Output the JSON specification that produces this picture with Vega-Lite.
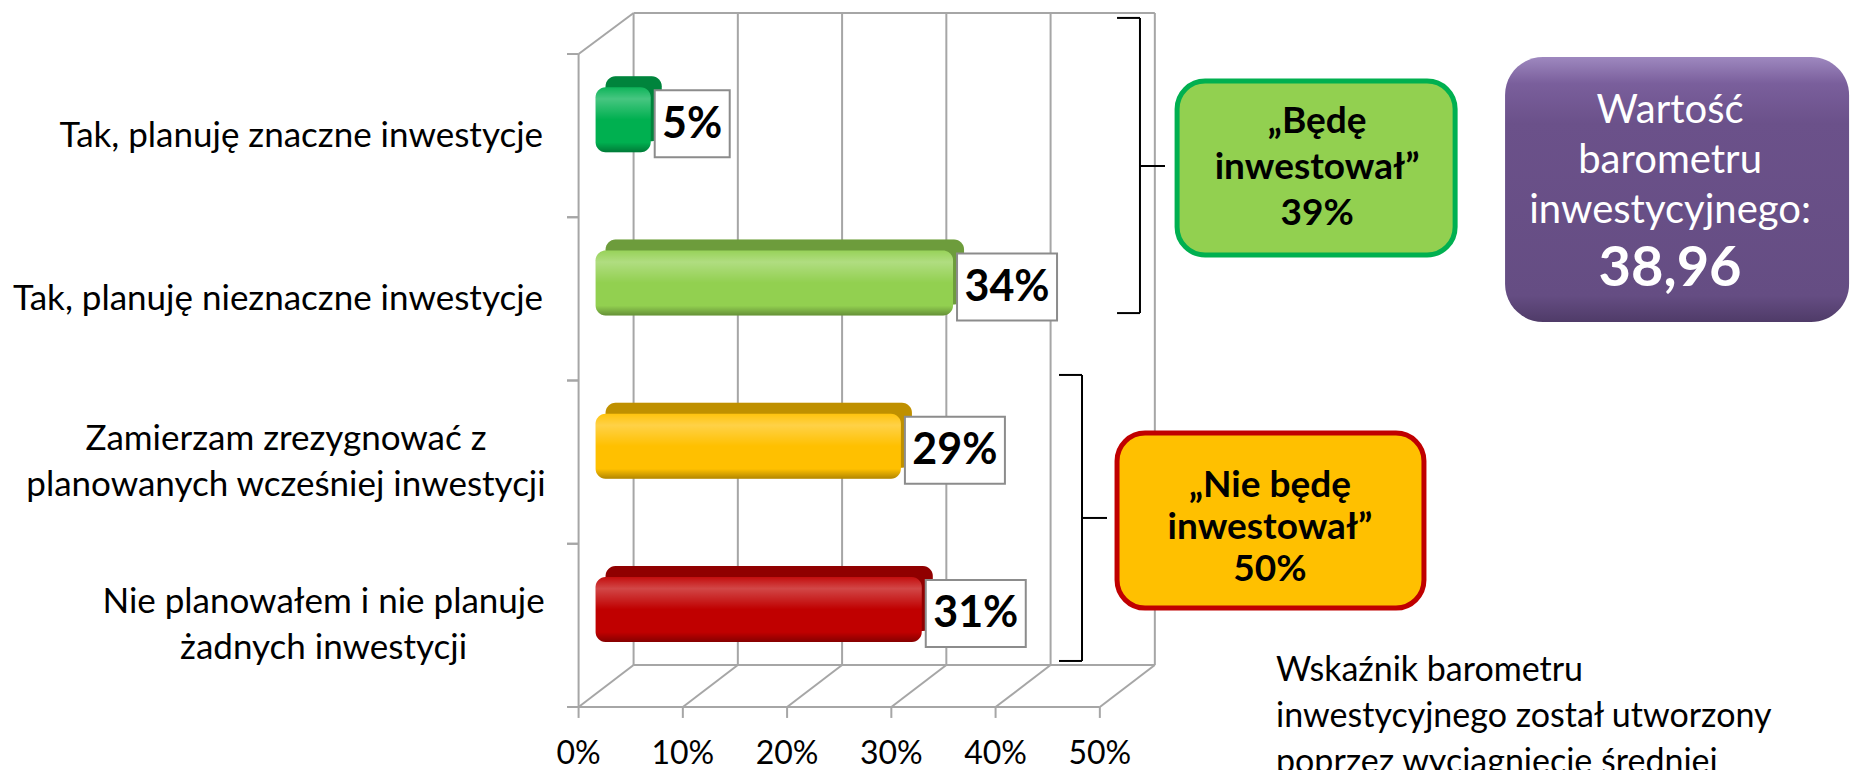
{
  "$schema": "https://vega.github.io/schema/vega-lite/v6.json",
  "width": 1852,
  "height": 770,
  "padding": 0,
  "autosize": {"type": "none"},
  "background": "white",
  "config": {"view": {"stroke": null}, "font": "Lato"},
  "datasets": {
    "cats": [
      {"category": "Tak, planuję znaczne inwestycje", "idx": 4, "value": 5, "pct": "5%"},
      {"category": "Tak, planuję nieznaczne inwestycje", "idx": 3, "value": 34, "pct": "34%"},
      {"category": "Zamierzam zrezygnować z\nplanowanych wcześniej inwestycji", "idx": 2, "value": 29, "pct": "29%"},
      {"category": "Nie planowałem i nie planuje\nżadnych inwestycji", "idx": 1, "value": 31, "pct": "31%"}
    ],
    "ticks": [
      {"v": 0, "label": "0%"},
      {"v": 10, "label": "10%"},
      {"v": 20, "label": "20%"},
      {"v": 30, "label": "30%"},
      {"v": 40, "label": "40%"},
      {"v": 50, "label": "50%"}
    ]
  },
  "layer": [
    {
      "data": {"name": "ticks"},
      "mark": {"type": "rule", "color": "#A6A6A6", "strokeWidth": 2, "xOffset": 55},
      "encoding": {
        "x": {"field": "v", "type": "quantitative", "scale": {"domain": [-55.5, 122.15], "nice": false, "zero": false}, "axis": null},
        "y": {"datum": 0.757, "type": "quantitative", "axis": null},
        "y2": {"datum": 4.751}
      }
    },
    {
      "data": {"values": [{"edge": "back top"}]},
      "mark": {"type": "rule", "color": "#A6A6A6", "strokeWidth": 2, "xOffset": 55, "x2Offset": 55},
      "encoding": {
        "x": {"datum": 0, "type": "quantitative", "axis": null},
        "x2": {"datum": 50},
        "y": {"datum": 4.751, "type": "quantitative", "axis": null}
      }
    },
    {
      "data": {"values": [{"edge": "back floor"}]},
      "mark": {"type": "rule", "color": "#A6A6A6", "strokeWidth": 2, "xOffset": 55, "x2Offset": 55},
      "encoding": {
        "x": {"datum": 0, "type": "quantitative", "axis": null},
        "x2": {"datum": 50},
        "y": {"datum": 0.757, "type": "quantitative", "axis": null}
      }
    },
    {
      "data": {"name": "ticks"},
      "mark": {"type": "rule", "color": "#A6A6A6", "strokeWidth": 2, "x2Offset": 55},
      "encoding": {
        "x": {"field": "v", "type": "quantitative", "scale": {"domain": [-55.5, 122.15], "nice": false, "zero": false}, "axis": null},
        "x2": {"field": "v"},
        "y": {"datum": 0.5, "type": "quantitative", "axis": null},
        "y2": {"datum": 0.757}
      }
    },
    {
      "data": {"values": [{"edge": "front floor"}]},
      "mark": {"type": "rule", "color": "#A6A6A6", "strokeWidth": 2},
      "encoding": {
        "x": {"datum": 0, "type": "quantitative", "axis": null},
        "x2": {"datum": 50},
        "y": {"datum": 0.5, "type": "quantitative", "axis": null}
      }
    },
    {
      "data": {"values": [{"edge": "front axis"}]},
      "mark": {"type": "rule", "color": "#A6A6A6", "strokeWidth": 2},
      "encoding": {
        "x": {"datum": 0, "type": "quantitative", "axis": null},
        "y": {"datum": 0.5, "type": "quantitative", "axis": null},
        "y2": {"datum": 4.5}
      }
    },
    {
      "data": {"values": [{"edge": "side top"}]},
      "mark": {"type": "rule", "color": "#A6A6A6", "strokeWidth": 2, "x2Offset": 55},
      "encoding": {
        "x": {"datum": 0, "type": "quantitative", "axis": null},
        "x2": {"datum": 0},
        "y": {"datum": 4.5, "type": "quantitative", "axis": null},
        "y2": {"datum": 4.751}
      }
    },
    {
      "data": {"name": "ticks"},
      "mark": {"type": "rule", "color": "#A6A6A6", "strokeWidth": 2},
      "encoding": {
        "x": {"field": "v", "type": "quantitative", "scale": {"domain": [-55.5, 122.15], "nice": false, "zero": false}, "axis": null},
        "y": {"datum": 0.5, "type": "quantitative", "axis": null},
        "y2": {"datum": 0.433}
      }
    },
    {
      "data": {"name": "cats"},
      "mark": {"type": "rule", "color": "#A6A6A6", "strokeWidth": 2, "yOffset": -81.6},
      "encoding": {
        "x": {"datum": -1.11, "type": "quantitative", "axis": null},
        "x2": {"datum": 0},
        "y": {"field": "idx", "type": "quantitative", "scale": {"domain": [0.1141, 4.8308], "nice": false, "zero": false}, "axis": null}
      }
    },
    {
      "data": {"name": "cats"},
      "mark": {"type": "rule", "color": "#A6A6A6", "strokeWidth": 2, "yOffset": 81.6},
      "encoding": {
        "x": {"datum": -1.11, "type": "quantitative", "axis": null},
        "x2": {"datum": 0},
        "y": {"field": "idx", "type": "quantitative", "scale": {"domain": [0.1141, 4.8308], "nice": false, "zero": false}, "axis": null}
      }
    },
    {
      "data": {"name": "ticks"},
      "mark": {"type": "text", "fontSize": 32, "align": "center", "baseline": "middle", "color": "#000000"},
      "encoding": {
        "x": {"field": "v", "type": "quantitative", "scale": {"domain": [-55.5, 122.15], "nice": false, "zero": false}, "axis": null},
        "y": {"datum": 0.215, "type": "quantitative", "axis": null},
        "text": {"field": "label"}
      }
    },
    {
      "data": {"name": "cats"},
      "transform": [{"filter": "indexof(datum.category, '\\n') < 0"}],
      "mark": {"type": "text", "fontSize": 35, "align": "right", "baseline": "middle", "color": "#000000"},
      "encoding": {
        "x": {"datum": -3.41, "type": "quantitative", "axis": null},
        "y": {"field": "idx", "type": "quantitative", "scale": {"domain": [0.1141, 4.8308], "nice": false, "zero": false}, "axis": null},
        "text": {"field": "category"}
      }
    },
    {
      "data": {"name": "cats"},
      "transform": [{"filter": "datum.idx == 2"}],
      "mark": {"type": "text", "fontSize": 35, "align": "center", "baseline": "middle", "color": "#000000", "lineBreak": "\n", "lineHeight": 46, "yOffset": -23},
      "encoding": {
        "x": {"datum": -28.07, "type": "quantitative", "axis": null},
        "y": {"field": "idx", "type": "quantitative", "scale": {"domain": [0.1141, 4.8308], "nice": false, "zero": false}, "axis": null},
        "text": {"field": "category"}
      }
    },
    {
      "data": {"name": "cats"},
      "transform": [{"filter": "datum.idx == 1"}],
      "mark": {"type": "text", "fontSize": 35, "align": "center", "baseline": "middle", "color": "#000000", "lineBreak": "\n", "lineHeight": 46, "yOffset": -23},
      "encoding": {
        "x": {"datum": -24.46, "type": "quantitative", "axis": null},
        "y": {"field": "idx", "type": "quantitative", "scale": {"domain": [0.1141, 4.8308], "nice": false, "zero": false}, "axis": null},
        "text": {"field": "category"}
      }
    },
    {
      "data": {"name": "cats"},
      "mark": {"type": "rect", "cornerRadius": 10, "xOffset": 31, "x2Offset": 27, "yOffset": -59.5, "y2Offset": 5.5},
      "encoding": {
        "x": {"field": "value", "type": "quantitative", "scale": {"domain": [-55.5, 122.15], "nice": false, "zero": false}, "axis": null},
        "x2": {"datum": 0},
        "y": {"field": "idx", "type": "quantitative", "scale": {"domain": [0.1141, 4.8308], "nice": false, "zero": false}, "axis": null},
        "y2": {"field": "idx"},
        "color": {"field": "category", "type": "nominal", "legend": null, "scale": {"domain": ["Tak, planuję znaczne inwestycje", "Tak, planuję nieznaczne inwestycje", "Zamierzam zrezygnować z\nplanowanych wcześniej inwestycji", "Nie planowałem i nie planuje\nżadnych inwestycji"], "range": ["#00B050", "#92D050", "#FFC000", "#C00000"]}}
      }
    },
    {
      "data": {"name": "cats"},
      "mark": {"type": "rect", "cornerRadius": 10, "xOffset": 31, "x2Offset": 27, "yOffset": -59.5, "y2Offset": 5.5, "fill": "#000000", "fillOpacity": 0.25},
      "encoding": {
        "x": {"field": "value", "type": "quantitative", "scale": {"domain": [-55.5, 122.15], "nice": false, "zero": false}, "axis": null},
        "x2": {"datum": 0},
        "y": {"field": "idx", "type": "quantitative", "scale": {"domain": [0.1141, 4.8308], "nice": false, "zero": false}, "axis": null},
        "y2": {"field": "idx"}
      }
    },
    {
      "data": {"name": "cats"},
      "mark": {"type": "rect", "cornerRadius": 10, "xOffset": 20, "x2Offset": 17, "yOffset": -48.5, "y2Offset": 16.5},
      "encoding": {
        "x": {"field": "value", "type": "quantitative", "scale": {"domain": [-55.5, 122.15], "nice": false, "zero": false}, "axis": null},
        "x2": {"datum": 0},
        "y": {"field": "idx", "type": "quantitative", "scale": {"domain": [0.1141, 4.8308], "nice": false, "zero": false}, "axis": null},
        "y2": {"field": "idx"},
        "color": {"field": "category", "type": "nominal", "legend": null}
      }
    },
    {
      "data": {"name": "cats"},
      "mark": {"type": "rect", "cornerRadius": 10, "xOffset": 20, "x2Offset": 17, "yOffset": -48.5, "y2Offset": 16.5,
        "fill": {"gradient": "linear", "x1": 0, "y1": 0, "x2": 0, "y2": 1, "stops": [
          {"offset": 0, "color": "rgba(255,255,255,0.05)"},
          {"offset": 0.18, "color": "rgba(255,255,255,0.28)"},
          {"offset": 0.5, "color": "rgba(255,255,255,0)"},
          {"offset": 0.85, "color": "rgba(0,0,0,0)"},
          {"offset": 1, "color": "rgba(0,0,0,0.3)"}
        ]}},
      "encoding": {
        "x": {"field": "value", "type": "quantitative", "scale": {"domain": [-55.5, 122.15], "nice": false, "zero": false}, "axis": null},
        "x2": {"datum": 0},
        "y": {"field": "idx", "type": "quantitative", "scale": {"domain": [0.1141, 4.8308], "nice": false, "zero": false}, "axis": null},
        "y2": {"field": "idx"}
      }
    },
    {
      "data": {"name": "cats"},
      "transform": [{"filter": "datum.value >= 10"}],
      "mark": {"type": "rect", "fill": "#FFFFFF", "stroke": "#8C8C8C", "strokeWidth": 2, "xOffset": 24, "x2Offset": 124, "yOffset": -45.5, "y2Offset": 21.5},
      "encoding": {
        "x": {"field": "value", "type": "quantitative", "scale": {"domain": [-55.5, 122.15], "nice": false, "zero": false}, "axis": null},
        "x2": {"field": "value"},
        "y": {"field": "idx", "type": "quantitative", "scale": {"domain": [0.1141, 4.8308], "nice": false, "zero": false}, "axis": null},
        "y2": {"field": "idx"}
      }
    },
    {
      "data": {"name": "cats"},
      "transform": [{"filter": "datum.value < 10"}],
      "mark": {"type": "rect", "fill": "#FFFFFF", "stroke": "#8C8C8C", "strokeWidth": 2, "xOffset": 24, "x2Offset": 99, "yOffset": -45.5, "y2Offset": 21.5},
      "encoding": {
        "x": {"field": "value", "type": "quantitative", "scale": {"domain": [-55.5, 122.15], "nice": false, "zero": false}, "axis": null},
        "x2": {"field": "value"},
        "y": {"field": "idx", "type": "quantitative", "scale": {"domain": [0.1141, 4.8308], "nice": false, "zero": false}, "axis": null},
        "y2": {"field": "idx"}
      }
    },
    {
      "data": {"name": "cats"},
      "transform": [{"filter": "datum.value >= 10"}],
      "mark": {"type": "text", "fontSize": 43, "fontWeight": "bold", "align": "center", "baseline": "middle", "color": "#000000", "xOffset": 74, "yOffset": -11},
      "encoding": {
        "x": {"field": "value", "type": "quantitative", "scale": {"domain": [-55.5, 122.15], "nice": false, "zero": false}, "axis": null},
        "y": {"field": "idx", "type": "quantitative", "scale": {"domain": [0.1141, 4.8308], "nice": false, "zero": false}, "axis": null},
        "text": {"field": "pct"}
      }
    },
    {
      "data": {"name": "cats"},
      "transform": [{"filter": "datum.value < 10"}],
      "mark": {"type": "text", "fontSize": 43, "fontWeight": "bold", "align": "center", "baseline": "middle", "color": "#000000", "xOffset": 61.5, "yOffset": -11},
      "encoding": {
        "x": {"field": "value", "type": "quantitative", "scale": {"domain": [-55.5, 122.15], "nice": false, "zero": false}, "axis": null},
        "y": {"field": "idx", "type": "quantitative", "scale": {"domain": [0.1141, 4.8308], "nice": false, "zero": false}, "axis": null},
        "text": {"field": "pct"}
      }
    },
    {
      "data": {"values": [{"part": "upper brace"}]},
      "mark": {"type": "rule", "color": "#000000", "strokeWidth": 2},
      "encoding": {
        "x": {"datum": 53.85, "type": "quantitative", "axis": null},
        "y": {"datum": 4.721, "type": "quantitative", "axis": null},
        "y2": {"datum": 2.913}
      }
    },
    {
      "data": {"values": [{"part": "upper brace top"}]},
      "mark": {"type": "rule", "color": "#000000", "strokeWidth": 2},
      "encoding": {
        "x": {"datum": 51.65, "type": "quantitative", "axis": null},
        "x2": {"datum": 53.85},
        "y": {"datum": 4.721, "type": "quantitative", "axis": null}
      }
    },
    {
      "data": {"values": [{"part": "upper brace bottom"}]},
      "mark": {"type": "rule", "color": "#000000", "strokeWidth": 2},
      "encoding": {
        "x": {"datum": 51.65, "type": "quantitative", "axis": null},
        "x2": {"datum": 53.85},
        "y": {"datum": 2.913, "type": "quantitative", "axis": null}
      }
    },
    {
      "data": {"values": [{"part": "upper brace tip"}]},
      "mark": {"type": "rule", "color": "#000000", "strokeWidth": 2},
      "encoding": {
        "x": {"datum": 53.85, "type": "quantitative", "axis": null},
        "x2": {"datum": 56.25},
        "y": {"datum": 3.814, "type": "quantitative", "axis": null}
      }
    },
    {
      "data": {"values": [{"part": "lower brace"}]},
      "mark": {"type": "rule", "color": "#000000", "strokeWidth": 2},
      "encoding": {
        "x": {"datum": 48.29, "type": "quantitative", "axis": null},
        "y": {"datum": 2.534, "type": "quantitative", "axis": null},
        "y2": {"datum": 0.782}
      }
    },
    {
      "data": {"values": [{"part": "lower brace top"}]},
      "mark": {"type": "rule", "color": "#000000", "strokeWidth": 2},
      "encoding": {
        "x": {"datum": 46.08, "type": "quantitative", "axis": null},
        "x2": {"datum": 48.29},
        "y": {"datum": 2.534, "type": "quantitative", "axis": null}
      }
    },
    {
      "data": {"values": [{"part": "lower brace bottom"}]},
      "mark": {"type": "rule", "color": "#000000", "strokeWidth": 2},
      "encoding": {
        "x": {"datum": 46.08, "type": "quantitative", "axis": null},
        "x2": {"datum": 48.29},
        "y": {"datum": 0.782, "type": "quantitative", "axis": null}
      }
    },
    {
      "data": {"values": [{"part": "lower brace tip"}]},
      "mark": {"type": "rule", "color": "#000000", "strokeWidth": 2},
      "encoding": {
        "x": {"datum": 48.29, "type": "quantitative", "axis": null},
        "x2": {"datum": 50.69},
        "y": {"datum": 1.658, "type": "quantitative", "axis": null}
      }
    },
    {
      "data": {"values": [{"group": "Będę inwestował"}]},
      "mark": {"type": "rect", "fill": "#92D050", "stroke": "#00B050", "strokeWidth": 5, "cornerRadius": 28},
      "encoding": {
        "x": {"datum": 57.41, "type": "quantitative", "axis": null},
        "x2": {"datum": 84.08},
        "y": {"datum": 4.335, "type": "quantitative", "axis": null},
        "y2": {"datum": 3.269}
      }
    },
    {
      "data": {"values": [{"text": "„Będę\ninwestował”\n39%"}]},
      "mark": {"type": "text", "fontSize": 37, "fontWeight": "bold", "align": "center", "baseline": "middle", "color": "#000000", "lineBreak": "\n", "lineHeight": 46},
      "encoding": {
        "x": {"datum": 70.84, "type": "quantitative", "axis": null},
        "y": {"datum": 4.083, "type": "quantitative", "axis": null},
        "text": {"field": "text"}
      }
    },
    {
      "data": {"values": [{"group": "Nie będę inwestował"}]},
      "mark": {"type": "rect", "fill": "#FFC000", "stroke": "#C00000", "strokeWidth": 5, "cornerRadius": 28},
      "encoding": {
        "x": {"datum": 51.65, "type": "quantitative", "axis": null},
        "x2": {"datum": 81.09},
        "y": {"datum": 2.178, "type": "quantitative", "axis": null},
        "y2": {"datum": 1.106}
      }
    },
    {
      "data": {"values": [{"text": "„Nie będę\ninwestował”\n50%"}]},
      "mark": {"type": "text", "fontSize": 37, "fontWeight": "bold", "align": "center", "baseline": "middle", "color": "#000000", "lineBreak": "\n", "lineHeight": 42},
      "encoding": {
        "x": {"datum": 66.32, "type": "quantitative", "axis": null},
        "y": {"datum": 1.854, "type": "quantitative", "axis": null},
        "text": {"field": "text"}
      }
    },
    {
      "data": {"values": [{"group": "barometr"}]},
      "mark": {"type": "rect", "cornerRadius": 38,
        "fill": {"gradient": "linear", "x1": 0, "y1": 0, "x2": 0, "y2": 1, "stops": [
          {"offset": 0, "color": "#9E88BF"},
          {"offset": 0.1, "color": "#7A5F9C"},
          {"offset": 0.25, "color": "#6B518A"},
          {"offset": 0.9, "color": "#654D83"},
          {"offset": 1, "color": "#4F3B68"}
        ]}},
      "encoding": {
        "x": {"datum": 88.87, "type": "quantitative", "axis": null},
        "x2": {"datum": 121.87},
        "y": {"datum": 4.482, "type": "quantitative", "axis": null},
        "y2": {"datum": 2.858}
      }
    },
    {
      "data": {"values": [{"text": "Wartość\nbarometru\ninwestycyjnego:"}]},
      "mark": {"type": "text", "fontSize": 40, "align": "center", "baseline": "middle", "color": "#FFFFFF", "lineBreak": "\n", "lineHeight": 50},
      "encoding": {
        "x": {"datum": 104.7, "type": "quantitative", "axis": null},
        "y": {"datum": 4.151, "type": "quantitative", "axis": null},
        "text": {"field": "text"}
      }
    },
    {
      "data": {"values": [{"text": "38,96"}]},
      "mark": {"type": "text", "fontSize": 56, "fontWeight": "bold", "align": "center", "baseline": "middle", "color": "#FFFFFF"},
      "encoding": {
        "x": {"datum": 104.7, "type": "quantitative", "axis": null},
        "y": {"datum": 3.18, "type": "quantitative", "axis": null},
        "text": {"field": "text"}
      }
    },
    {
      "data": {"values": [{"text": "Wskaźnik barometru\ninwestycyjnego został utworzony\npoprzez wyciągnięcie średniej"}]},
      "mark": {"type": "text", "fontSize": 34, "align": "left", "baseline": "middle", "color": "#000000", "lineBreak": "\n", "lineHeight": 46},
      "encoding": {
        "x": {"datum": 66.9, "type": "quantitative", "axis": null},
        "y": {"datum": 0.7205, "type": "quantitative", "axis": null},
        "text": {"field": "text"}
      }
    }
  ]
}
